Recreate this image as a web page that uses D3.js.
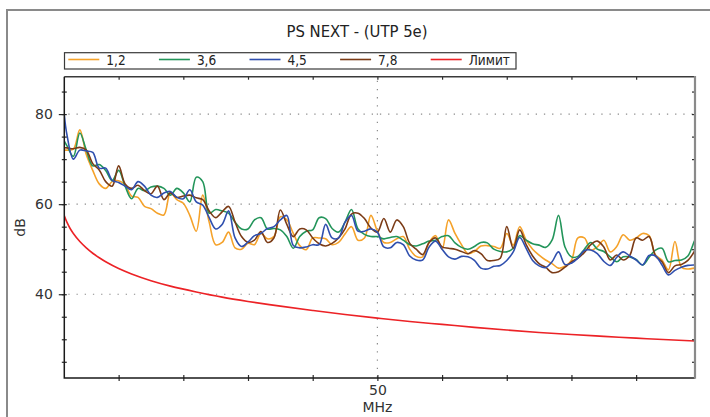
<!DOCTYPE html>
<html>
<head>
<meta charset="utf-8">
<script src="https://cdn.jsdelivr.net/npm/d3@7"></script>
<style>
  html, body { margin: 0; padding: 0; background: #fff; }
  svg { display: block; }
  .cond { font-family: "Liberation Sans Narrow", "DejaVu Sans Condensed", "Roboto", sans-serif; font-stretch: condensed; }
  .ax { font-family: "DejaVu Sans", sans-serif; }
</style>
</head>
<body>
<svg id="chart" width="710" height="417"></svg>
<script>
// ---- data ----
const title = "PS NEXT - (UTP 5e)";
const seriesNames = ["1,2", "3,6", "4,5", "7,8", "Лимит"];
const seriesColors = ["#f5a22a", "#23955a", "#2f4fae", "#7b3b16", "#ec2226"];

const freq = [1.6, 2, 3, 4, 5, 6, 7, 8, 9, 10,
  11, 12, 13, 14, 15, 16, 17, 18, 19, 20,
  21, 22, 23, 24, 25, 26, 27, 28, 29, 30,
  31, 32, 33, 34, 35, 36, 37, 38, 39, 40,
  41, 42, 43, 44, 45, 46, 47, 48, 49, 50,
  51, 52, 53, 54, 55, 56, 57, 58, 59, 60,
  61, 62, 63, 64, 65, 66, 67, 68, 69, 70,
  71, 72, 73, 74, 75, 76, 77, 78, 79, 80,
  81, 82, 83, 84, 85, 86, 87, 88, 89, 90,
  91, 92, 93, 94, 95, 96, 97, 98, 99, 99.1];

const pair12 = [72.0, 72.0, 72.2, 76.5, 71.0, 67.5, 64.5, 63.5, 65.0, 65.2,
  64.3, 61.8, 61.5, 59.5, 59.0, 58.0, 57.6, 62.5, 61.0, 60.2,
  57.5, 54.0, 62.0, 56.0, 51.0, 51.5, 53.8, 50.3, 50.0, 51.3,
  51.0, 53.5, 52.3, 52.8, 57.2, 56.5, 53.5, 50.8, 49.9, 52.5,
  52.5, 52.3, 51.0, 51.5, 53.4, 55.0, 52.0, 52.5, 57.5, 54.0,
  51.5, 51.5, 52.3, 52.8, 50.0, 48.4, 48.3, 51.5, 53.0, 50.0,
  56.5, 53.5, 51.0, 49.0, 49.5, 50.7, 50.8, 50.6, 50.2, 53.5,
  50.9, 55.0, 52.0, 50.0, 48.7, 47.6, 46.8, 45.8, 46.2, 47.5,
  52.5, 52.5, 49.8, 50.5, 52.0, 49.4, 50.6, 53.2, 52.0, 52.5,
  53.5, 53.0, 48.7, 47.6, 45.4, 51.7, 46.0, 45.6, 45.8, 45.8];

const pair36 = [74.0, 73.0, 70.6, 75.8, 72.0, 68.5, 68.8, 67.5, 65.2, 67.5,
  64.0, 61.2, 63.5, 63.0, 63.8, 64.0, 63.5, 62.0, 63.5, 62.5,
  60.5, 66.0, 65.0, 58.0, 58.8, 58.5, 58.0, 56.0, 54.5, 54.5,
  56.5, 57.0, 54.5, 54.6, 54.3, 52.8, 50.2, 52.8, 54.0, 54.3,
  57.0, 56.8, 54.6, 53.8, 56.0, 58.8, 54.5, 53.3, 52.8, 52.8,
  52.3, 52.6, 52.8, 52.0, 51.0, 50.7, 51.2, 51.8, 52.0, 52.8,
  53.0, 51.4, 50.4, 50.0, 50.6, 51.5, 51.4, 50.0, 49.5, 49.4,
  50.2, 53.0, 52.0, 51.2, 50.9, 50.4, 52.0, 57.5, 50.5, 48.3,
  48.4, 50.0, 51.5, 50.0, 49.5, 48.3, 47.2, 48.3, 48.3, 47.7,
  46.5, 48.2, 49.8, 50.2, 47.2, 47.5, 47.6, 48.5, 51.8, 52.0];

const pair45 = [79.8, 75.5, 70.0, 72.0, 71.8, 71.5, 68.0, 68.0, 65.3, 64.8,
  64.0, 63.2, 65.0, 64.0, 62.0, 61.5, 62.5, 62.8, 61.5, 61.2,
  63.2, 60.5, 59.8, 57.0, 54.5, 55.5, 58.5, 52.5, 50.6, 51.6,
  53.0, 53.5, 54.6, 55.0, 56.5, 57.5, 50.8, 50.3, 50.5, 51.0,
  51.0, 55.5, 52.5, 52.5, 56.0, 57.5, 54.0, 54.0, 54.5, 53.8,
  50.5, 50.3, 51.5, 51.0, 48.5, 47.6, 47.6, 50.5, 51.8, 50.0,
  48.3, 47.8, 48.4, 48.3, 47.5, 45.8, 45.6, 46.2, 46.4, 47.5,
  49.4, 52.6, 50.2, 47.5, 46.3, 45.9, 47.2, 49.4, 46.6, 46.9,
  48.0, 49.7, 49.8, 49.0, 47.3, 46.4, 48.2, 49.4, 48.5, 47.6,
  46.5, 48.6, 48.5, 46.5, 44.3, 45.3, 46.0, 46.4, 46.5, 46.5];

const pair78 = [72.5, 72.5, 72.3, 72.6, 72.0, 69.0, 67.6, 65.0, 64.0, 68.5,
  64.5, 63.5, 64.2, 63.0, 62.3, 64.0, 61.0, 62.5, 61.5, 61.8,
  62.0, 61.4, 61.0, 58.5, 57.0, 58.3, 59.5, 56.0, 52.8, 51.5,
  52.0, 53.9, 51.5, 52.5, 58.7, 55.5, 52.8, 54.5, 54.3, 52.5,
  51.2, 50.7, 51.3, 52.5, 54.5, 57.8, 58.0, 56.8, 54.7, 53.8,
  56.8, 53.8, 56.5, 55.0, 51.3, 50.0, 48.8, 51.5, 52.5, 50.5,
  50.2, 50.0, 49.5, 49.0, 49.7, 49.0, 47.5, 47.5, 48.0, 55.0,
  50.2, 54.3, 51.0, 48.5, 46.8, 46.0, 44.8, 45.0, 46.0, 47.2,
  48.0, 49.3, 51.0, 51.8, 50.5, 47.6, 48.7, 47.6, 48.6, 52.5,
  52.0, 52.8, 48.5, 47.2, 44.8, 46.3, 46.6, 47.5, 49.5, 49.8];

const limitFreq = [1.6, 2, 2.5, 3, 4, 5, 6, 7, 8, 10, 12, 15, 18, 22, 26, 30,
  35, 40, 45, 50, 55, 60, 65, 70, 75, 80, 85, 90, 95, 99.1];
const limitVals = [57.4, 56.0, 54.6, 53.5, 51.7, 50.3, 49.1, 48.1, 47.2, 45.7, 44.5, 43.0, 41.8, 40.5, 39.35, 38.4,
  37.35, 36.4, 35.5, 34.7, 33.95, 33.3, 32.65, 32.05, 31.5, 31.05, 30.65, 30.25, 29.9, 29.6];

const xTicks = [10, 20, 30, 40, 50, 60, 70, 80, 90];
const xLabelTicks = [50];
const yMinorTicks = [25, 30, 35, 40, 45, 50, 55, 60, 65, 70, 75, 80, 85];
const yMajorTicks = [40, 60, 80];
const xTitle = "MHz";
const yTitle = "dB";

// ---- layout ----
const svg = d3.select("#chart");
const L = 64.3, R = 695, T = 76.7, B = 378;
const x = d3.scaleLinear().domain([1.6, 99.1]).range([L, R]);
const y = d3.scaleLinear().domain([21.4, 88.3]).range([B, T]);

// outer frame
svg.append("rect").attr("x", 7).attr("y", 10).attr("width", 740).attr("height", 440)
  .attr("fill", "#fff").attr("stroke", "#8a8a8a").attr("stroke-width", 2);

// title
svg.append("text").attr("class", "cond").attr("x", 357).attr("y", 37)
  .attr("text-anchor", "middle").attr("font-size", 16.5).attr("fill", "#222").text(title);

// grid
const grid = svg.append("g").attr("stroke", "#8c8c8c").attr("stroke-width", 1.2)
  .attr("stroke-dasharray", "1.3 6.9");
grid.selectAll("line.h").data(yMajorTicks).join("line")
  .attr("x1", L + 4).attr("x2", R).attr("y1", d => y(d)).attr("y2", d => y(d));
grid.selectAll("line.v").data(xLabelTicks).join("line").attr("class", "v")
  .attr("x1", d => x(d)).attr("x2", d => x(d)).attr("y1", T + 4).attr("y2", B);

// clip
svg.append("clipPath").attr("id", "clip").append("rect")
  .attr("x", L).attr("y", T).attr("width", R - L).attr("height", B - T);

const plot = svg.append("g").attr("clip-path", "url(#clip)");
const line = d3.line().x(d => x(d[0])).y(d => y(d[1])).curve(d3.curveCatmullRom.alpha(0.5));

const series = [pair12, pair36, pair45, pair78];
const order = [0, 1, 3, 2];
order.forEach(i => {
  plot.append("path").datum(freq.map((f, k) => [f, series[i][k]]))
    .attr("fill", "none").attr("stroke", seriesColors[i]).attr("stroke-width", 1.6)
    .attr("stroke-linejoin", "round").attr("d", line);
});
plot.append("path").datum(limitFreq.map((f, k) => [f, limitVals[k]]))
  .attr("fill", "none").attr("stroke", seriesColors[4]).attr("stroke-width", 1.6)
  .attr("d", line);

// axes
const axColor = "#2a2a2a";
function styleAxis(g) {
  g.select(".domain").remove();
  g.selectAll(".tick line").attr("stroke", axColor).attr("stroke-width", 1.2);
  g.selectAll(".tick text").attr("fill", "#333").attr("font-family", "DejaVu Sans, sans-serif").attr("font-size", 14);
}
// left minor
svg.append("g").attr("transform", `translate(${L},0)`)
  .call(d3.axisLeft(y).tickValues(yMinorTicks).tickSize(2.5).tickFormat(""))
  .call(styleAxis).call(g => g.selectAll(".tick line").attr("x1", 2.5));
// left major
svg.append("g").attr("transform", `translate(${L},0)`)
  .call(d3.axisLeft(y).tickValues(yMajorTicks).tickSize(5.5).tickPadding(6).tickFormat(d3.format("d")))
  .call(styleAxis);
// right
svg.append("g").attr("transform", `translate(${R},0)`)
  .call(d3.axisLeft(y).tickValues(yMinorTicks).tickSize(3).tickFormat(""))
  .call(styleAxis);
// top
svg.append("g").attr("transform", `translate(0,${T})`)
  .call(d3.axisBottom(x).tickValues(xTicks).tickSize(3).tickFormat(""))
  .call(styleAxis);
// bottom
svg.append("g").attr("transform", `translate(0,${B})`)
  .call(d3.axisBottom(x).tickValues(xTicks).tickSize(3).tickPadding(4)
    .tickFormat(d => xLabelTicks.includes(d) ? d : ""))
  .call(styleAxis).call(g => g.selectAll(".tick line").attr("y1", -3));

// frame lines of plot
svg.append("path").attr("d", `M${L},${T}H${R}`).attr("stroke", "#3a3a3a").attr("stroke-width", 1.5);
svg.append("path").attr("d", `M${L},${T}V${B}H${R}`).attr("fill", "none").attr("stroke", "#1a1a1a").attr("stroke-width", 1.5);
svg.append("path").attr("d", `M${R},${T - 0.75}V${B + 0.75}`).attr("stroke", "#8a8a8a").attr("stroke-width", 2.2);

// axis titles
svg.append("text").attr("class", "ax").attr("x", x(50)).attr("y", 411.5)
  .attr("text-anchor", "middle").attr("font-size", 14).attr("fill", "#333").text(xTitle);
svg.append("text").attr("class", "ax").attr("transform", "translate(25,227.5) rotate(-90)")
  .attr("text-anchor", "middle").attr("font-size", 14).attr("fill", "#333").text(yTitle);

// legend
const lg = svg.append("g");
lg.append("rect").attr("x", 64.5).attr("y", 52.7).attr("width", 451.5).attr("height", 16.3)
  .attr("fill", "#fff").attr("stroke", "#3a3a3a").attr("stroke-width", 1.2);
const lx = d3.scaleBand().domain(d3.range(seriesNames.length)).range([68.3, 68.3 + 90.6 * 5]);
seriesNames.forEach((n, i) => {
  const sx = lx(i);
  lg.append("line").attr("x1", sx).attr("x2", sx + 31).attr("y1", 59.5).attr("y2", 59.5)
    .attr("stroke", seriesColors[i]).attr("stroke-width", 1.6);
  lg.append("text").attr("class", "cond").attr("x", sx + 38).attr("y", 65.3)
    .attr("font-size", 13.5).attr("fill", "#222").text(n);
});
</script>
</body>
</html>
